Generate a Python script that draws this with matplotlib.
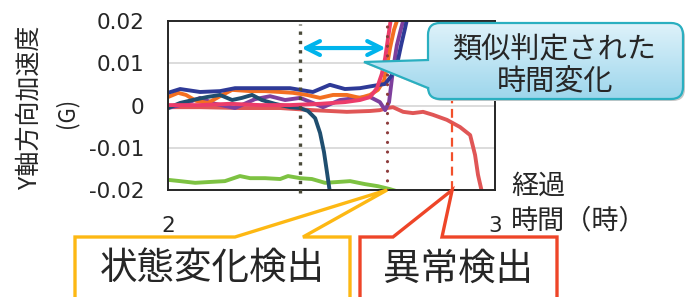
import numpy as np
import matplotlib
matplotlib.use("Agg")
import matplotlib.pyplot as plt
from matplotlib.path import Path
from matplotlib.patches import PathPatch, Polygon
from matplotlib.colors import LinearSegmentedColormap

plt.rcParams["font.family"] = ["Noto Sans CJK JP", "DejaVu Sans"]

W, H = 687, 297

# --- data (elapsed time in hours, Y-axis acceleration in G) ---
navy_t = [2.000, 2.037, 2.098, 2.159, 2.205, 2.281, 2.373, 2.404, 2.443, 2.495, 2.541,
          2.587, 2.624, 2.664, 2.685, 2.700, 2.713, 2.725, 2.737]
navy_y = [0.0030, 0.0039, 0.0032, 0.0034, 0.0041, 0.0041, 0.0041, 0.0037, 0.0032, 0.0049, 0.0039,
          0.0041, 0.0046, 0.0051, 0.0072, 0.0096, 0.0143, 0.0183, 0.0226]

orange_t = [2.000, 2.031, 2.055, 2.086, 2.122, 2.159, 2.196, 2.251, 2.297, 2.343, 2.382, 2.425,
            2.465, 2.505, 2.547, 2.587, 2.618, 2.642, 2.661, 2.670, 2.679, 2.691, 2.700, 2.706]
orange_y = [0.0020, 0.0030, 0.0025, 0.0011, 0.0006, 0.0022, 0.0037, 0.0034, 0.0034, 0.0032, 0.0030, 0.0025,
            0.0018, 0.0025, 0.0025, 0.0018, 0.0025, 0.0037, 0.0060, 0.0096, 0.0136, 0.0179, 0.0200, 0.0221]

purple_t = [2.000, 2.052, 2.098, 2.144, 2.205, 2.266, 2.312, 2.358, 2.404, 2.443, 2.474,
            2.526, 2.578, 2.618, 2.648, 2.664, 2.676, 2.688, 2.700, 2.713, 2.719, 2.728]
purple_y = [-0.0006, 0.0004, 0.0018, 0.0004, -0.0006, 0.0015, 0.0022, 0.0013, 0.0018, 0.0006, -0.0004,
            0.0013, 0.0018, 0.0020, 0.0008, -0.0011, 0.0008, 0.0084, 0.0143, 0.0183, 0.0200, 0.0226]

pink_t = [2.000, 2.098, 2.190, 2.281, 2.373, 2.465, 2.541, 2.587, 2.618, 2.639, 2.654,
          2.664, 2.673, 2.682, 2.688]
pink_y = [0.0001, 0.0001, 0.0004, 0.0001, 0.0001, 0.0004, 0.0008, 0.0013, 0.0020, 0.0041, 0.0075,
          0.0112, 0.0160, 0.0207, 0.0231]

red_t = [2.000, 2.098, 2.220, 2.343, 2.443, 2.547, 2.618, 2.648, 2.670, 2.688, 2.719, 2.749,
         2.780, 2.810, 2.853, 2.893, 2.924, 2.939, 2.948, 2.960]
red_y = [-0.0004, -0.0004, -0.0006, -0.0006, -0.0011, -0.0015, -0.0013, -0.0011, -0.0006, -0.0004, -0.0015, -0.0018,
         -0.0015, -0.0022, -0.0034, -0.0051, -0.0070, -0.0117, -0.0164, -0.0205]

teal_t = [2.000, 2.037, 2.076, 2.119, 2.159, 2.196, 2.226, 2.257, 2.287, 2.327, 2.373, 2.404,
          2.428, 2.450, 2.465, 2.477, 2.486, 2.495]
teal_y = [-0.0006, 0.0006, 0.0013, 0.0020, 0.0025, 0.0013, 0.0018, 0.0025, 0.0013, 0.0004, -0.0004, -0.0006,
          -0.0013, -0.0030, -0.0065, -0.0110, -0.0157, -0.0205]

green_t = [2.000, 2.037, 2.083, 2.128, 2.174, 2.220, 2.251, 2.297, 2.343, 2.367, 2.404, 2.440,
           2.480, 2.520, 2.557, 2.602, 2.642, 2.679, 2.709]
green_y = [-0.0176, -0.0179, -0.0183, -0.0181, -0.0179, -0.0167, -0.0172, -0.0172, -0.0174, -0.0167, -0.0172, -0.0174,
           -0.0183, -0.0181, -0.0179, -0.0186, -0.0191, -0.0198, -0.0205]

t_similar = 2.404   # start of matched window
t_change = 2.670    # state change detected
t_anomaly = 2.869   # anomaly detected

y_ticks = [-0.02, -0.01, 0, 0.01, 0.02]
y_ticklabels = ["-0.02", "-0.01", "0", "0.01", "0.02"]
x_ticks = [2, 3]

TXT = "#262626"

fig = plt.figure(figsize=(W / 100, H / 100), dpi=100)
ax = fig.add_axes([168 / W, 1 - 190 / H, (495 - 168) / W, (190 - 21) / H])
ax.set_xlim(2, 3)
ax.set_ylim(-0.02, 0.02)
ax.set_yticks(y_ticks)
ax.set_yticklabels(y_ticklabels)
ax.set_xticks(x_ticks)
ax.tick_params(length=0, labelsize=15.5, labelcolor=TXT)
ax.tick_params(axis="y", pad=17)
ax.tick_params(axis="x", pad=19)
for lab in ax.get_xticklabels() + ax.get_yticklabels():
    lab.set_family(["DejaVu Sans"])
for s in ax.spines.values():
    s.set_color("#262626")
    s.set_linewidth(1.4)
for gy in (-0.01, 0, 0.01):
    ax.axhline(gy, color="#d9d9d9", lw=1.3, zorder=0)

lw = 2.8
ax.plot(green_t, green_y, color="#7dc242", lw=lw, solid_joinstyle="round", zorder=2)
ax.plot(red_t, red_y, color="#e05656", lw=lw, solid_joinstyle="round", zorder=2)
ax.plot(purple_t, purple_y, color="#7e3f9d", lw=lw, solid_joinstyle="round", zorder=2)
ax.plot(orange_t, orange_y, color="#f36f21", lw=lw, solid_joinstyle="round", zorder=2)
ax.plot(teal_t, teal_y, color="#1f4e6f", lw=lw, solid_joinstyle="round", zorder=2)
ax.plot(navy_t, navy_y, color="#2e3a97", lw=lw, solid_joinstyle="round", zorder=2)
ax.plot(pink_t, pink_y, color="#ec3c6a", lw=lw, solid_joinstyle="round", zorder=2)

# marker lines
ax.plot([t_similar, t_similar], [-0.0207, 0.0193], color="#4a4a3a", lw=2.4,
        ls=(0, (1, 1.8)), dash_capstyle="butt", clip_on=False, zorder=3)
ax.plot([t_change, t_change], [-0.02, 0.0198], color="#8c3b3b", lw=2.3,
        ls=(0, (0.01, 3.0)), dash_capstyle="round", zorder=3)
ax.plot([t_anomaly, t_anomaly], [-0.02, 0.02], color="#f2502b", lw=1.6,
        ls=(0, (4, 2.5)), zorder=3)

ax.annotate("", xy=(t_change - 0.004, 0.0136), xytext=(t_similar + 0.004, 0.0136),
            arrowprops=dict(arrowstyle="<->,head_length=1.0,head_width=0.5",
                            color="#00b4ec", lw=3, shrinkA=0, shrinkB=0), zorder=4)

# overlay in pixel coordinates (y down) for labels and callouts
ov = fig.add_axes([0, 0, 1, 1], zorder=5)
ov.set_xlim(0, W)
ov.set_ylim(H, 0)
ov.axis("off")


def to_px(x, y):
    dx, dy = ax.transData.transform((x, y))
    return dx, H - dy


ov.text(30, 107, "Y軸方向加速度", rotation=90, ha="center", va="center", fontsize=18, color=TXT)
ov.text(67, 113, "(G)", rotation=90, ha="center", va="center", fontsize=16, color=TXT)
ov.text(511, 186, "経過", ha="left", va="center", fontsize=19.5, color=TXT)
ov.text(511, 221, "時間（時）", ha="left", va="center", fontsize=19.5, color=TXT)

# speech bubble
L, T, R, B, r = 428, 23, 683, 99, 12
tail = [(L, 88), (364, 62), (L, 60)]
verts = [(L + r, T), (R - r, T), (R, T), (R, T + r), (R, B - r), (R, B), (R - r, B),
         (L + r, B), (L, B), (L, B - r)] + tail + [(L, T + r), (L, T), (L + r, T), (L + r, T)]
codes = [Path.MOVETO, Path.LINETO, Path.CURVE3, Path.CURVE3, Path.LINETO, Path.CURVE3, Path.CURVE3,
         Path.LINETO, Path.CURVE3, Path.CURVE3] + [Path.LINETO] * len(tail) + \
        [Path.LINETO, Path.CURVE3, Path.CURVE3, Path.CLOSEPOLY]
bubble = Path(verts, codes)
shadow = PathPatch(bubble.transformed(matplotlib.transforms.Affine2D().translate(2, 2)),
                   facecolor="#c8c8c8", edgecolor="none", transform=ov.transData, zorder=5)
ov.add_patch(shadow)
patch = PathPatch(bubble, facecolor="none", edgecolor="#2aafc0", lw=1.6, zorder=7)
ov.add_patch(patch)
cmap = LinearSegmentedColormap.from_list("bub", ["#def2fa", "#9dd6ec"])
im = ov.imshow(np.linspace(0, 1, 100).reshape(-1, 1), extent=(360, R, B, T), cmap=cmap,
               aspect="auto", interpolation="bilinear", zorder=6)
im.set_clip_path(patch)
ov.set_xlim(0, W)
ov.set_ylim(H, 0)
ov.text(555, 50, "類似判定された", ha="center", va="center", fontsize=21, color=TXT, zorder=8)
ov.text(555, 82, "時間変化", ha="center", va="center", fontsize=21, color=TXT, zorder=8)

# detection callouts
tip_c = to_px(t_change, -0.02)
ov.add_patch(Polygon([(75, 330), (75, 237), (235, 237), tip_c, (303, 237), (350, 237), (350, 330)],
                     closed=True, facecolor="white", edgecolor="#fdb813", lw=2.4,
                     joinstyle="miter", zorder=6))
ov.text(212, 268, "状態変化検出", ha="center", va="center", fontsize=27, color=TXT, zorder=8)

tip_a = to_px(t_anomaly, -0.02)
ov.add_patch(Polygon([(360, 330), (360, 237), (393, 237), tip_a, (442, 237), (557, 237), (557, 330)],
                     closed=True, facecolor="white", edgecolor="#ee4528", lw=2.4,
                     joinstyle="miter", zorder=6))
ov.text(458, 269, "異常検出", ha="center", va="center", fontsize=27, color=TXT, zorder=8)

fig.savefig("out.png", dpi=100)
